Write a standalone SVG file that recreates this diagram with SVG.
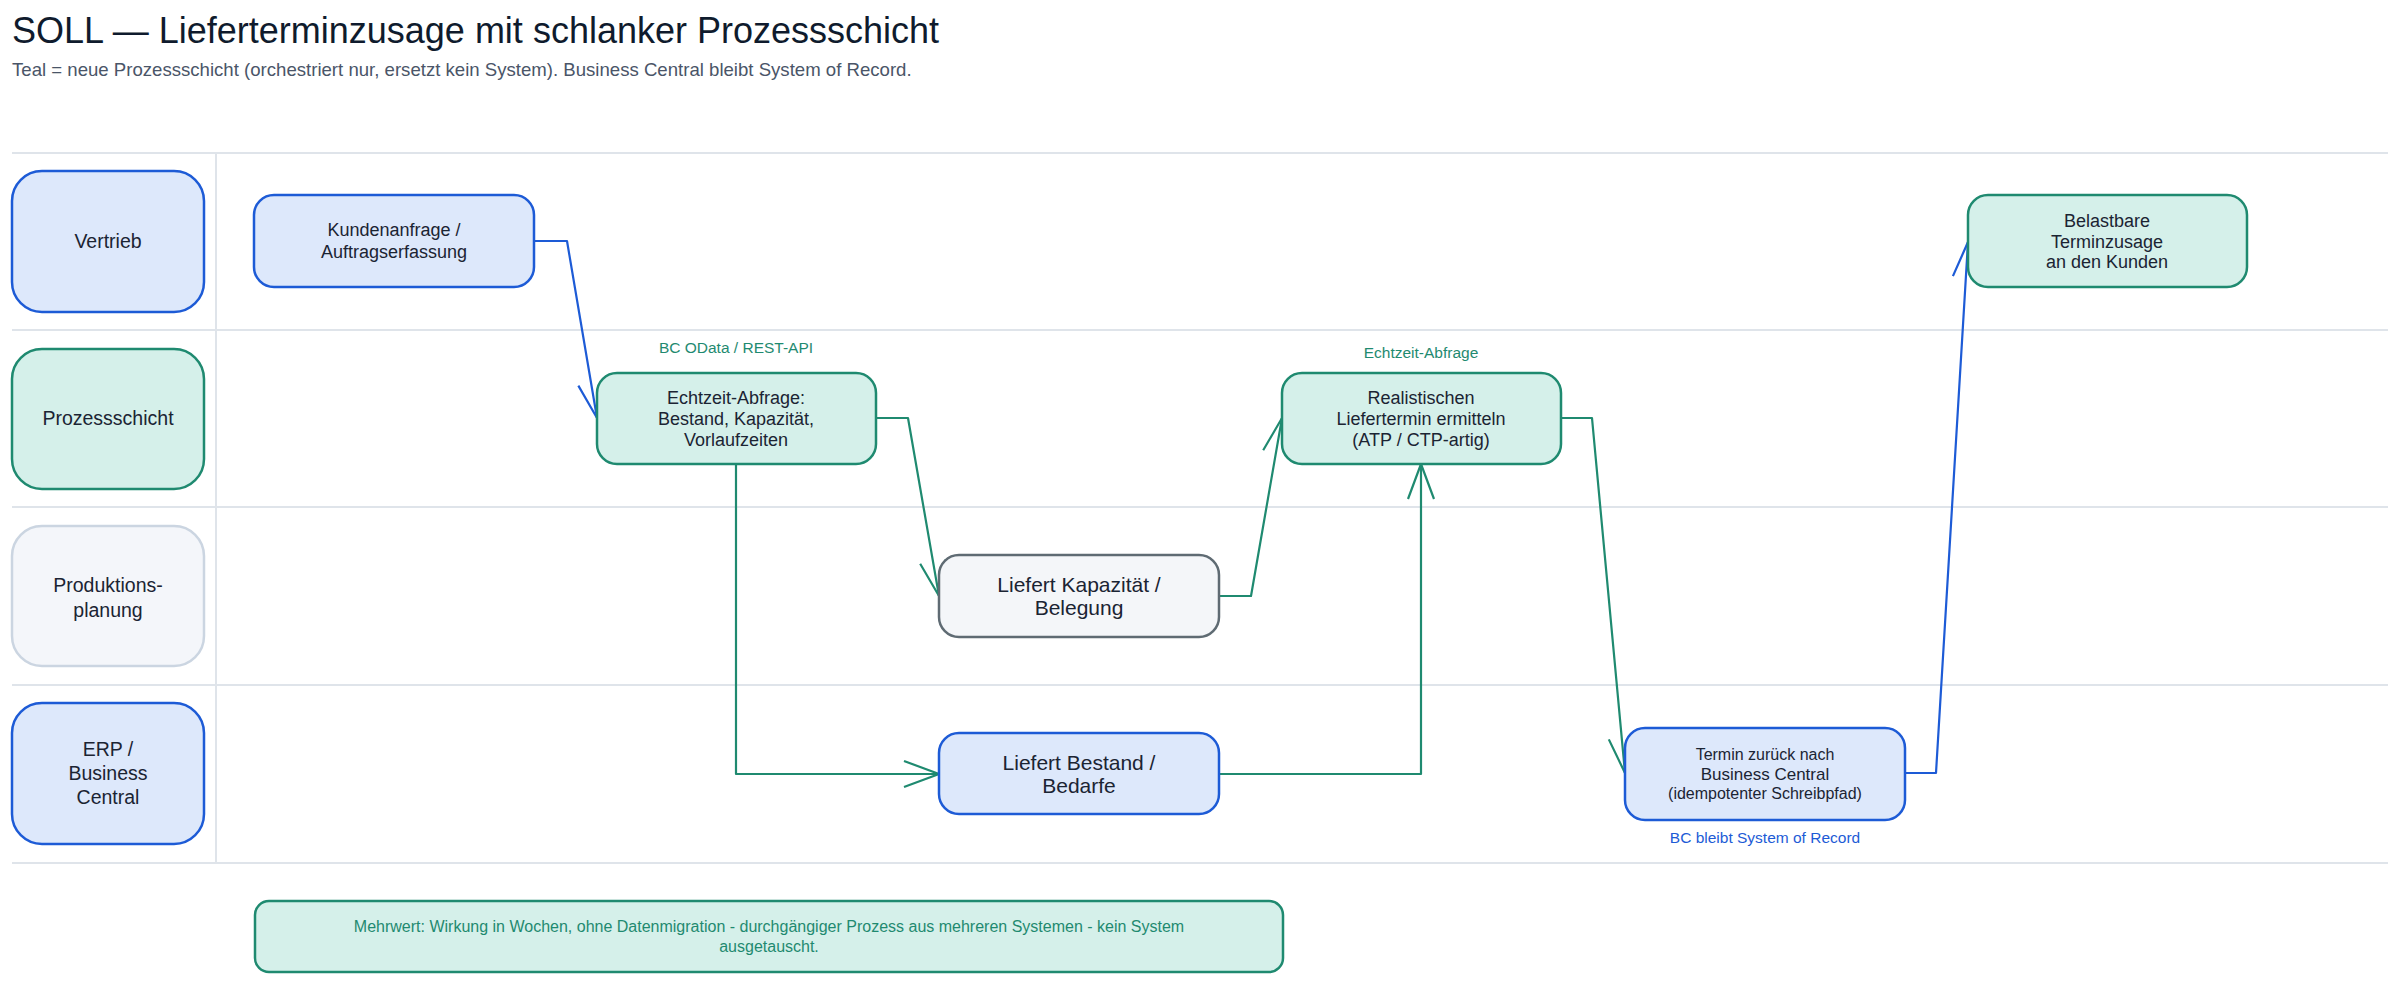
<svg xmlns="http://www.w3.org/2000/svg" width="2400" height="985" viewBox="0 0 2400 985">
<style>
  text { font-family: "Liberation Sans", Arial, sans-serif; }
  .title { font-size: 36px; fill: #0f1b2d; }
  .sub { font-size: 18.6px; fill: #4a5568; }
  .lane { stroke: #dfe4ea; stroke-width: 2; }
  .blue { fill: #dde8fb; stroke: #1d5bd6; stroke-width: 2.5; }
  .teal { fill: #d5f0ea; stroke: #1f8a70; stroke-width: 2.5; }
  .gray { fill: #f4f6f9; stroke: #5f6b73; stroke-width: 2.5; }
  .lgray { fill: #f4f6fa; stroke: #cbd5e1; stroke-width: 2.5; }
  .lbl { font-size: 19.5px; fill: #1b2433; text-anchor: middle; }
  .nt { font-size: 18px; fill: #1b2433; text-anchor: middle; }
  .nl { font-size: 21px; fill: #1b2433; text-anchor: middle; }
  .ns { font-size: 16px; fill: #1b2433; text-anchor: middle; }
  .eT { font-size: 15.5px; fill: #1f8a70; text-anchor: middle; }
  .eB { font-size: 15.5px; fill: #1d5bd6; text-anchor: middle; }
  .cT { fill: none; stroke: #1f8a70; stroke-width: 2.2; stroke-linejoin: round; marker-end: url(#ahT); }
  .cB { fill: none; stroke: #1d5bd6; stroke-width: 2.2; stroke-linejoin: round; marker-end: url(#ahB); }
  .note { font-size: 16px; fill: #1f8a70; text-anchor: middle; }
</style>
<defs>
  <marker id="ahT" markerUnits="userSpaceOnUse" markerWidth="50" markerHeight="40" viewBox="-45 -20 50 40" refX="0" refY="0" orient="auto">
    <path d="M-35,-13 L0,0 L-35,13" fill="none" stroke="#1f8a70" stroke-width="2.2"/>
  </marker>
  <marker id="ahB" markerUnits="userSpaceOnUse" markerWidth="50" markerHeight="40" viewBox="-45 -20 50 40" refX="0" refY="0" orient="auto">
    <path d="M-35,-13 L0,0 L-35,13" fill="none" stroke="#1d5bd6" stroke-width="2.2"/>
  </marker>
</defs>
<rect width="2400" height="985" fill="#ffffff"/>
<text class="title" x="12" y="43">SOLL — Lieferterminzusage mit schlanker Prozessschicht</text>
<text class="sub" x="12" y="76">Teal = neue Prozessschicht (orchestriert nur, ersetzt kein System). Business Central bleibt System of Record.</text>

<g id="lanes">
  <line class="lane" x1="12" y1="153" x2="2388" y2="153"/>
  <line class="lane" x1="12" y1="330" x2="2388" y2="330"/>
  <line class="lane" x1="12" y1="507" x2="2388" y2="507"/>
  <line class="lane" x1="12" y1="685" x2="2388" y2="685"/>
  <line class="lane" x1="12" y1="863" x2="2388" y2="863"/>
  <line class="lane" x1="216" y1="153" x2="216" y2="863"/>
</g>

<g id="lane-vertrieb">
  <rect class="blue" x="12" y="171" width="192" height="141" rx="30"/>
  <text class="lbl" x="108" y="248">Vertrieb</text>
</g>
<g id="lane-prozessschicht">
  <rect class="teal" x="12" y="349" width="192" height="140" rx="30"/>
  <text class="lbl" x="108" y="425">Prozessschicht</text>
</g>
<g id="lane-produktionsplanung">
  <rect class="lgray" x="12" y="526" width="192" height="140" rx="30"/>
  <text class="lbl" x="108" y="592">Produktions-</text>
  <text class="lbl" x="108" y="617">planung</text>
</g>
<g id="lane-erp">
  <rect class="blue" x="12" y="703" width="192" height="141" rx="30"/>
  <text class="lbl" x="108" y="756">ERP /</text>
  <text class="lbl" x="108" y="780">Business</text>
  <text class="lbl" x="108" y="804">Central</text>
</g>

<g id="connectors">
  <path class="cB" d="M534,241 L567,241 L597,418"/>
  <path class="cT" d="M876,418 L908,418 L939,596"/>
  <path class="cT" d="M1219,596 L1251,596 L1282,418"/>
  <path class="cT" d="M736,464 L736,774 L939,774"/>
  <path class="cT" d="M1219,774 L1421,774 L1421,464"/>
  <path class="cT" d="M1561,418 L1592,418 L1625,773"/>
  <path class="cB" d="M1905,773 L1936,773 L1968,242"/>
  <text class="eT" x="736" y="353">BC OData / REST-API</text>
  <text class="eT" x="1421" y="358">Echtzeit-Abfrage</text>
  <text class="eB" x="1765" y="843">BC bleibt System of Record</text>
</g>

<g id="n-kundenanfrage">
  <rect class="blue" x="254" y="195" width="280" height="92" rx="20"/>
  <text class="nt" x="394" y="236">Kundenanfrage /</text>
  <text class="nt" x="394" y="258">Auftragserfassung</text>
</g>
<g id="n-echtzeit">
  <rect class="teal" x="597" y="373" width="279" height="91" rx="20"/>
  <text class="nt" x="736" y="404">Echtzeit-Abfrage:</text>
  <text class="nt" x="736" y="425">Bestand, Kapazität,</text>
  <text class="nt" x="736" y="446">Vorlaufzeiten</text>
</g>
<g id="n-kapazitaet">
  <rect class="gray" x="939" y="555" width="280" height="82" rx="20"/>
  <text class="nl" x="1079" y="592">Liefert Kapazität /</text>
  <text class="nl" x="1079" y="615">Belegung</text>
</g>
<g id="n-bestand">
  <rect class="blue" x="939" y="733" width="280" height="81" rx="20"/>
  <text class="nl" x="1079" y="770">Liefert Bestand /</text>
  <text class="nl" x="1079" y="793">Bedarfe</text>
</g>
<g id="n-realistisch">
  <rect class="teal" x="1282" y="373" width="279" height="91" rx="20"/>
  <text class="nt" x="1421" y="404">Realistischen</text>
  <text class="nt" x="1421" y="425">Liefertermin ermitteln</text>
  <text class="nt" x="1421" y="446">(ATP / CTP-artig)</text>
</g>
<g id="n-termin">
  <rect class="blue" x="1625" y="728" width="280" height="92" rx="20"/>
  <text class="ns" x="1765" y="760">Termin zurück nach</text>
  <text class="ns" x="1765" y="780" style="font-size:17px">Business Central</text>
  <text class="ns" x="1765" y="799">(idempotenter Schreibpfad)</text>
</g>
<g id="n-belastbar">
  <rect class="teal" x="1968" y="195" width="279" height="92" rx="20"/>
  <text class="nt" x="2107" y="227">Belastbare</text>
  <text class="nt" x="2107" y="248">Terminzusage</text>
  <text class="nt" x="2107" y="268">an den Kunden</text>
</g>

<g id="n-mehrwert">
  <rect class="teal" x="255" y="901" width="1028" height="71" rx="14"/>
  <text class="note" x="769" y="932">Mehrwert: Wirkung in Wochen, ohne Datenmigration - durchgängiger Prozess aus mehreren Systemen - kein System</text>
  <text class="note" x="769" y="952">ausgetauscht.</text>
</g>
</svg>
